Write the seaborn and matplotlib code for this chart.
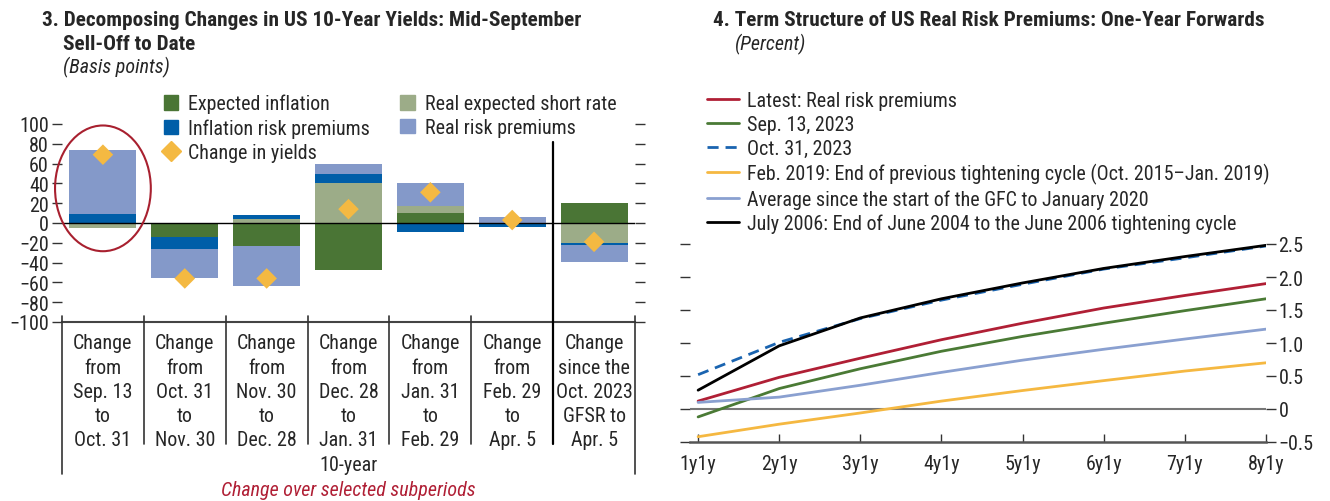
import numpy as np
import pandas as pd
import seaborn as sns
import matplotlib
matplotlib.use("agg")
import matplotlib.pyplot as plt
import matplotlib.transforms as mtransforms
from matplotlib.patches import Patch, Ellipse
from matplotlib.lines import Line2D

# ---- data: panel 3 (basis points) ----
periods = ["Change\nfrom\nSep. 13\nto\nOct. 31",
           "Change\nfrom\nOct. 31\nto\nNov. 30",
           "Change\nfrom\nNov. 30\nto\nDec. 28",
           "Change\nfrom\nDec. 28\nto\nJan. 31",
           "Change\nfrom\nJan. 31\nto\nFeb. 29",
           "Change\nfrom\nFeb. 29\nto\nApr. 5",
           "Change\nsince the\nOct. 2023\nGFSR to\nApr. 5"]
expected_inflation = [0, -14, -23, -47, 10, 0, 20]
real_short_rate = [-5, 0, 4, 40, 7, 0, -20]
inflation_rp = [9, -12, 4, 10, -9, -4, -2]
real_rp = [65, -30, -41, 10, 23, 6, -17]
change_in_yields = [69, -56, -56, 14, 31, 3, -19]

# ---- data: panel 4 (percent) ----
tenors = ["1y1y", "2y1y", "3y1y", "4y1y", "5y1y", "6y1y", "7y1y", "8y1y"]
latest = [0.12, 0.48, 0.77, 1.05, 1.30, 1.53, 1.72, 1.90]
sep13 = [-0.12, 0.31, 0.61, 0.875, 1.10, 1.30, 1.49, 1.67]
oct31 = [0.52, 1.01, 1.37, 1.65, 1.89, 2.12, 2.29, 2.47]
feb2019 = [-0.42, -0.23, -0.06, 0.12, 0.28, 0.43, 0.575, 0.70]
gfc_avg = [0.10, 0.18, 0.36, 0.555, 0.74, 0.905, 1.06, 1.21]
jul2006 = [0.285, 0.957, 1.38, 1.67, 1.91, 2.13, 2.31, 2.48]

sns.set_theme(style="white")
plt.rcParams["font.family"] = ["Roboto Condensed", "Archivo Narrow", "Pragati Narrow",
                               "Fira Sans Condensed", "DejaVu Sans"]
FS = 14.4
TFS = 15.3

W, H = 1330, 502
fig = plt.figure(figsize=(W / 100, H / 100), dpi=100)


def fx(px):
    return px / W


def fy(py):
    return 1 - py / H


# ================= panel 3 =================
ax1 = fig.add_axes([fx(62), fy(323), fx(635 - 62), (323 - 125) / H])
comp_names = ["Expected inflation", "Real expected short rate",
              "Inflation risk premiums", "Real risk premiums"]
comp_vals = [expected_inflation, real_short_rate, inflation_rp, real_rp]
comp_cols = ["#4a7535", "#9cac88", "#005ea8", "#8499c9"]

x = np.arange(len(periods))
pos_base = np.zeros(len(periods))
neg_base = np.zeros(len(periods))
for name, vals, col in zip(comp_names, comp_vals, comp_cols):
    v = np.array(vals, dtype=float)
    base = np.where(v >= 0, pos_base, neg_base)
    ax1.bar(x, v, bottom=base, width=0.82, color=col, linewidth=0, zorder=2)
    pos_base += np.where(v > 0, v, 0)
    neg_base += np.where(v < 0, v, 0)

ax1.axhline(0, color="black", lw=1.0, zorder=3)
sns.scatterplot(x=x, y=change_in_yields, marker="D", s=110, color="#f4b942",
                edgecolor="none", zorder=4, ax=ax1, legend=False)

ax1.set_xlim(-0.5, len(periods) - 0.5)
ax1.set_ylim(-100, 100)
ax1.set_yticks(range(-100, 101, 20))
ax1.set_xticks([])
ax1.tick_params(axis="y", left=True, right=True, labelleft=True, labelright=False,
                direction="out", length=7, width=1, color="#333333", pad=2.5,
                labelsize=FS)
for s in ["top", "left", "right"]:
    ax1.spines[s].set_visible(False)
ax1.spines["bottom"].set_color("#444444")
ax1.spines["bottom"].set_linewidth(1.5)

# separators / category boxes
bl = mtransforms.blended_transform_factory(ax1.transData, ax1.transAxes)
for i in range(len(periods) + 1):
    xs = i - 0.5
    if i in (0, len(periods)):
        y0, lw = -0.77, 1.2
    else:
        y0, lw = -0.616, 1.2
    top = 0.028
    col = "#333333"
    if i == len(periods) - 1:
        top, lw, col = 0.91, 1.6, "black"
    ax1.plot([xs, xs], [y0, top], transform=bl, color=col, lw=lw, clip_on=False, zorder=5)

for xi, lab in zip(x, periods):
    ax1.text(xi, -0.058, lab, transform=bl, ha="center", va="top",
             fontsize=FS, linespacing=1.35)
ax1.text(0.5, -(466 - 323) / 198, "10-year", transform=ax1.transAxes,
         ha="center", va="center", fontsize=FS)
ax1.text(0.5, -(491 - 323) / 198, "Change over selected subperiods",
         transform=ax1.transAxes, ha="center", va="center", fontsize=FS,
         style="italic", color="#b01f35")

ax1.add_patch(Ellipse((0, 35), width=1.17, height=127, fill=False,
                      edgecolor="#a8202f", lw=1.5, clip_on=False, zorder=6))

handles = [Patch(color=comp_cols[0]), Patch(color=comp_cols[2]),
           Line2D([], [], marker="D", ls="none", color="#f4b942", markersize=10),
           Patch(color=comp_cols[1]), Patch(color=comp_cols[3])]
labels = ["Expected inflation", "Inflation risk premiums", "Change in yields",
          "Real expected short rate", "Real risk premiums"]
ax1.legend(handles, labels, ncol=2, loc="upper left",
           bbox_to_anchor=(fx(164), fy(95)), bbox_transform=fig.transFigure,
           frameon=False, fontsize=FS, borderpad=0, borderaxespad=0,
           handlelength=0.72, handleheight=0.72, handletextpad=0.5,
           columnspacing=1.5, labelspacing=0.24)

fig.text(fx(42), fy(20), "3. Decomposing Changes in US 10-Year Yields: Mid-September",
         fontsize=TFS, fontweight="bold", va="center")
fig.text(fx(63), fy(44), "Sell-Off to Date", fontsize=TFS, fontweight="bold", va="center")
fig.text(fx(63), fy(67), "(Basis points)", fontsize=FS, style="italic", va="center")

# ================= panel 4 =================
ax2 = fig.add_axes([fx(690), fy(443), fx(1266 - 690), (443 - 245) / H])
series = [
    ("Latest: Real risk premiums", latest, "#b01f35", "-"),
    ("Sep. 13, 2023", sep13, "#4a7a35", "-"),
    ("Oct. 31, 2023", oct31, "#1a64b0", "--"),
    ("Feb. 2019: End of previous tightening cycle (Oct. 2015\u2013Jan. 2019)", feb2019, "#f5b841", "-"),
    ("Average since the start of the GFC to January 2020", gfc_avg, "#8aa0d0", "-"),
    ("July 2006: End of June 2004 to the June 2006 tightening cycle", jul2006, "black", "-"),
]
ax2.axhline(0, color="#777777", lw=1.5, zorder=1)
for name, vals, col, ls in series:
    df = pd.DataFrame({"tenor": tenors, "value": vals})
    line_ax = sns.lineplot(data=df, x="tenor", y="value", color=col, lw=2.0,
                           ax=ax2, label=name, zorder=3)
    line_ax.lines[-1].set_linestyle(ls)
    if ls == "--":
        line_ax.lines[-1].set_dashes((4, 2.5))

ax2.set_xlim(-0.1, len(tenors) - 1)
ax2.set_ylim(-0.5, 2.5)
ax2.set_yticks([-0.5, 0, 0.5, 1.0, 1.5, 2.0, 2.5])
ax2.set_yticklabels(["\u22120.5", "0", "0.5", "1.0", "1.5", "2.0", "2.5"])
ax2.set_xlabel("")
ax2.set_ylabel("")
ax2.tick_params(axis="y", left=True, right=True, labelleft=False, labelright=True,
                direction="out", length=7, width=1, color="#333333", pad=2,
                labelsize=FS)
ax2.tick_params(axis="x", bottom=True, direction="in", length=6, width=1,
                color="#333333", pad=9, labelsize=FS)
for s in ["top", "left", "right"]:
    ax2.spines[s].set_visible(False)
ax2.spines["bottom"].set_color("#555555")
ax2.spines["bottom"].set_linewidth(1.8)

ax2.legend(loc="upper left", bbox_to_anchor=(fx(707), fy(92)),
           bbox_transform=fig.transFigure, frameon=False, fontsize=FS,
           borderpad=0, borderaxespad=0, handlelength=1.6, handletextpad=0.4,
           labelspacing=0.25)

fig.text(fx(713), fy(20), "4. Term Structure of US Real Risk Premiums: One-Year Forwards",
         fontsize=TFS, fontweight="bold", va="center")
fig.text(fx(735), fy(44), "(Percent)", fontsize=FS, style="italic", va="center")

fig.savefig("out.png", dpi=100)
